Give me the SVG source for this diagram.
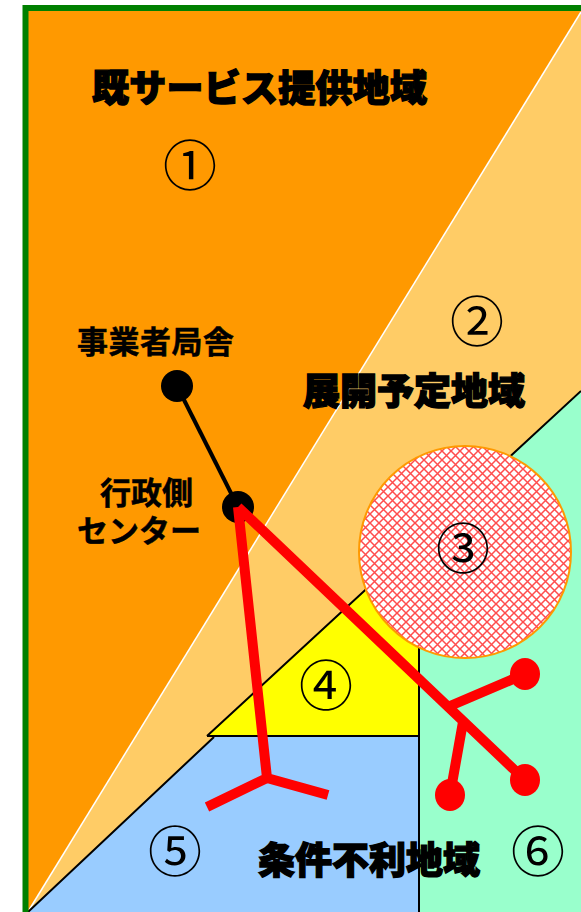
<svg xmlns="http://www.w3.org/2000/svg" width="581" height="912" viewBox="0 0 581 912">
<defs>
<pattern id="hatch" x="1" y="1" width="9" height="9" patternUnits="userSpaceOnUse">
<rect width="9" height="9" fill="#fff"/>
<path d="M0 0L9 9M9 0L0 9" stroke="#ff4d4d" stroke-width="1.5" fill="none"/>
</pattern>
</defs>
<style>
.h{font-family:"Noto Sans CJK JP",sans-serif;font-weight:900;fill:#000;stroke:#000;stroke-width:1.4px;font-size:37px}
.s{font-family:"Noto Sans CJK JP",sans-serif;font-weight:700;fill:#000;stroke:#000;stroke-width:.5px;font-size:31px}
.n{font-family:"Noto Sans CJK JP",sans-serif;font-weight:400;fill:#000;font-size:54px;text-anchor:middle}
.r{stroke:#f00;stroke-width:10;fill:none}
</style>
<g id="regions">
<rect x="25.5" y="8" width="560" height="910" fill="#f90"/>
<polygon points="581,12 581,391 207,736 214,737 28,912" fill="#fc6"/>
<polygon points="419,541 581,391 581,912 419,912" fill="#9fc"/>
<polygon points="28,912 214,737 419,737 419,912" fill="#9cf"/>
<polygon points="207,736 419,541 419,736" fill="#ff0"/>
<path d="M581 12L29 910" stroke="#fff" stroke-width="1.5" fill="none"/>
<path d="M28 912L214 737M207 736L581 391M207 736H419M419 600V912" stroke="#000" stroke-width="2" fill="none"/>
<path d="M25.5 912V8H581" fill="none" stroke="#008000" stroke-width="6"/>
</g>
<g id="area3"><circle cx="465" cy="552" r="106" fill="url(#hatch)" stroke="#f90" stroke-width="2"/></g>
<g id="connectors">
<path d="M177 386L238 507" stroke="#000" stroke-width="4" fill="none"/>
<circle cx="177" cy="386" r="16" fill="#000"/>
<circle cx="238" cy="507" r="16" fill="#000"/>
<path class="r" d="M238 507L267 778M207 807L267 778L328 795M238 507L525 780M450 706L525 674M463 722L450 795"/>
<ellipse cx="525" cy="674" rx="15" ry="16" fill="#f00"/>
<ellipse cx="525" cy="780" rx="15" ry="16" fill="#f00"/>
<ellipse cx="450" cy="795" rx="15" ry="16" fill="#f00"/>
</g>
<g id="labels">
<text class="h" x="92" y="102" textLength="335" lengthAdjust="spacing">既サービス提供地域</text>
<text class="h" x="303" y="405" textLength="222" lengthAdjust="spacing">展開予定地域</text>
<text class="h" x="258" y="874" textLength="222" lengthAdjust="spacing">条件不利地域</text>
<text class="s" x="77" y="353" textLength="157" lengthAdjust="spacing">事業者局舎</text>
<text class="s" x="100" y="504" textLength="93" lengthAdjust="spacing">行政側</text>
<text class="s" x="77" y="542" textLength="124" lengthAdjust="spacing">センター</text>
<text class="n" x="190" y="186">①</text>
<text class="n" x="477" y="342">②</text>
<text class="n" x="463" y="569">③</text>
<text class="n" x="326" y="706">④</text>
<text class="n" x="175" y="872">⑤</text>
<text class="n" x="538" y="872">⑥</text>
</g>
</svg>
